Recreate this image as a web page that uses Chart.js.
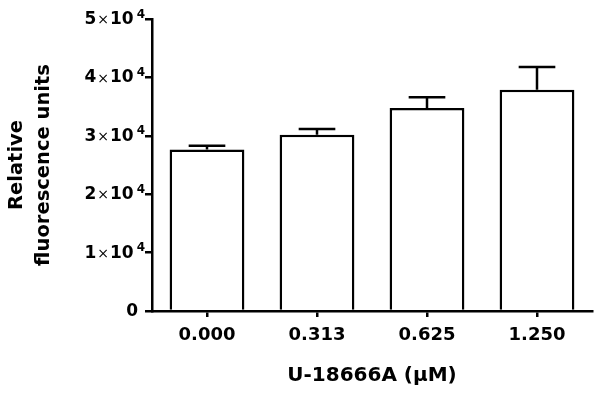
<!DOCTYPE html>
<html lang="en">

<head>
  <meta charset="UTF-8">
  <title>U-18666A fluorescence</title>
  <script src="https://cdn.jsdelivr.net/npm/chart.js"></script>
  <style>
    html, body { margin: 0; padding: 0; background: #fff; }
    .chart-box { width: 600px; height: 399px; position: relative; }
  </style>
</head>

<body>
  <div class="chart-box">
    <canvas id="rfuChart"></canvas>
  </div>

  <script>
    // Data
    const doses = ['0.000', '0.313', '0.625', '1.250'];
    const meanRfu = [27650, 30200, 34750, 37900];
    const semRfu = [650, 950, 1850, 3900];
    const yMax = 50000;
    const yStep = 10000;

    const FONT = '"DejaVu Sans", "Liberation Sans", Arial, sans-serif';
    Chart.defaults.font.family = FONT;
    Chart.defaults.color = '#000';

    // error bars (upper only), drawn from the bar scale
    const errorBars = {
      id: 'errorBars',
      afterDatasetsDraw(chart) {
        const ctx = chart.ctx;
        const yScale = chart.scales.y;
        const meta = chart.getDatasetMeta(0);
        ctx.save();
        ctx.strokeStyle = '#000';
        ctx.lineWidth = 2.5;
        meta.data.forEach((bar, i) => {
          const yTop = yScale.getPixelForValue(meanRfu[i] + semRfu[i]);
          const yBar = yScale.getPixelForValue(meanRfu[i]);
          const half = bar.width * 0.245;
          ctx.beginPath();
          ctx.moveTo(bar.x, yBar);
          ctx.lineTo(bar.x, yTop);
          ctx.moveTo(bar.x - half, yTop);
          ctx.lineTo(bar.x + half, yTop);
          ctx.stroke();
        });
        ctx.restore();
      }
    };

    // y tick labels in "n×10⁴" form with a real superscript
    const sciTicks = {
      id: 'sciTicks',
      afterDraw(chart) {
        const ctx = chart.ctx;
        const yScale = chart.scales.y;
        const xRight = yScale.right - 7;
        ctx.save();
        ctx.fillStyle = '#000';
        ctx.textBaseline = 'middle';
        yScale.ticks.forEach((t, i) => {
          const y = yScale.getPixelForTick(i) + 0.5;
          const n = t.value / 10000;
          const digitFont = 'bold 17px ' + FONT;
          if (n === 0) {
            ctx.font = digitFont;
            ctx.textAlign = 'right';
            ctx.fillText('0', xRight - 7, y);
            return;
          }
          ctx.textAlign = 'left';
          const timesFont = '14px ' + FONT;
          const supFont = 'bold 12px ' + FONT;
          ctx.font = supFont;
          const wSup = ctx.measureText('4').width;
          ctx.font = digitFont;
          const wTen = ctx.measureText('10').width;
          const wN = ctx.measureText(String(n)).width;
          ctx.font = timesFont;
          const wX = ctx.measureText('\u00d7').width;
          let x = xRight - wSup - 3 - wTen - 1 - wX - 1 - wN;
          ctx.font = digitFont;
          ctx.fillText(String(n), x, y);
          x += wN + 1;
          ctx.font = timesFont;
          ctx.fillText('\u00d7', x, y + 1);
          x += wX + 1;
          ctx.font = digitFont;
          ctx.fillText('10', x, y);
          x += wTen + 3;
          ctx.font = supFont;
          ctx.fillText('4', x, y - 5);
        });
        ctx.restore();
      }
    };

    new Chart(document.getElementById('rfuChart'), {
      type: 'bar',
      data: {
        labels: doses,
        datasets: [{
          data: meanRfu,
          backgroundColor: '#fff',
          borderColor: '#000',
          borderWidth: 2.5,
          categoryPercentage: 1,
          barPercentage: 0.68
        }]
      },
      options: {
        responsive: true,
        maintainAspectRatio: false,
        animation: false,
        layout: { padding: { top: 19, right: 8, bottom: 0, left: 0 } },
        plugins: {
          legend: { display: false },
          tooltip: { enabled: false }
        },
        scales: {
          x: {
            afterFit: (s) => { s.height = 88; },
            grid: { display: true, offset: false, drawOnChartArea: false, drawTicks: true, tickLength: 6, lineWidth: 2.5, color: '#000' },
            border: { display: true, color: '#000', width: 2.5 },
            ticks: { padding: 8, font: { size: 18, weight: 'bold' } },
            title: {
              display: true,
              text: 'U-18666A (\u03bcM)',
              font: { size: 20, weight: 'bold' },
              padding: { top: 0, bottom: 11 }
            }
          },
          y: {
            min: 0,
            max: yMax,
            afterFit: (s) => { s.width = 152; },
            grid: { display: true, drawOnChartArea: false, drawTicks: true, tickLength: 7, lineWidth: 2.5, color: '#000' },
            border: { display: true, color: '#000', width: 2.5 },
            ticks: {
              stepSize: yStep,
              padding: 1,
              color: 'rgba(0,0,0,0)',
              font: { size: 16, weight: 'bold' }
            },
            title: {
              display: true,
              text: ['Relative', 'fluorescence units'],
              font: { size: 19.5, weight: 'bold', lineHeight: 1.4 },
              padding: { top: 3, bottom: 0 }
            }
          }
        }
      },
      plugins: [errorBars, sciTicks]
    });
  </script>
</body>

</html>
